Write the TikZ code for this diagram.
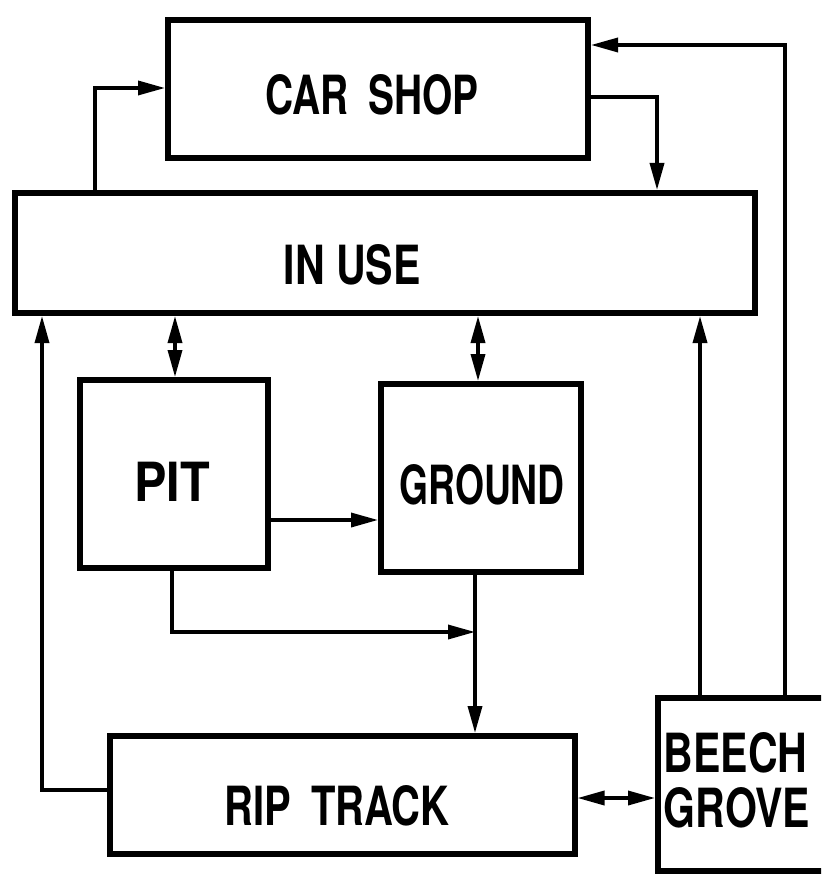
\documentclass[tikz,border=0pt]{standalone}
\usepackage{fontspec}
\usepackage{graphicx}
\setmainfont{TeX Gyre Heros}
\usetikzlibrary{arrows.meta}
\newcommand{\lab}[2][0.76]{\scalebox{#1}[1]{\fontsize{54}{50}\selectfont\bfseries #2}}
\tikzset{
  blk/.style={draw, line width=6pt, rectangle, inner sep=0pt},
  conn/.style={line width=3.5pt, line join=miter},
  tip/.style={-{Triangle[length=27pt,width=14pt]}},
  dtip/.style={{Triangle[length=27pt,width=14pt]}-{Triangle[length=27pt,width=14pt]}},
  lbl/.style={inner sep=0pt}
}
\begin{document}
\begin{tikzpicture}[x=1pt,y=-1pt]
\clip (0,0) rectangle (821,874);
\fill[white] (0,0) rectangle (821,874);
% boxes
\node[blk, minimum width=420pt, minimum height=138pt] (carshop) at (378,89) {};
\node[blk, minimum width=740pt, minimum height=120pt] (inuse) at (385,253) {};
\node[blk, minimum width=188pt, minimum height=188pt] (pit) at (174,474) {};
\node[blk, minimum width=200pt, minimum height=188pt] (ground) at (481,478) {};
\node[blk, minimum width=465pt, minimum height=118pt] (riptrack) at (342,795) {};
\node[blk, minimum width=220pt, minimum height=173pt, anchor=north west] (beech) at (655,695) {};
% labels
\node[lbl] (carshoplbl) at (372,95) {\lab[0.72]{CAR\hspace{0.5em}SHOP}};
\node[lbl] (inuselbl) at (352,265) {\lab{IN USE}};
\node[lbl] (pitlbl) at (172,482) {\lab[0.9]{PIT}};
\node[lbl] (groundlbl) at (482,485) {\lab[0.69]{GROUND}};
\node[lbl] (riptracklbl) at (337,806) {\lab[0.74]{RIP\hspace{0.5em}TRACK}};
\node[lbl] (beechlbl) at (737,787) {\lab{\begin{tabular}{@{}l@{}}BEECH\\GROVE\end{tabular}}};
% coordinates
\coordinate (c1) at (95,88);
\coordinate (c2) at (657,97);
\coordinate (c3) at (785,45);
\coordinate (c4) at (700,0);
\coordinate (c5) at (42,790);
\coordinate (c6) at (175,0);
\coordinate (c7) at (478,0);
\coordinate (c8) at (0,520);
\coordinate (c9) at (172,632);
\coordinate (c10) at (475,632);
\coordinate (c11) at (0,798);
% connectors
\draw[conn,tip] (inuse.north -| c1) |- (carshop.west |- c1);
\draw[conn,tip] (carshop.east |- c2) -| (inuse.north -| c2);
\draw[conn,tip] (beech.north -| c3) |- (carshop.east |- c3);
\draw[conn,tip] (beech.north -| c4) -- (inuse.south -| c4);
\draw[conn,tip] (riptrack.west |- c5) -| (inuse.south -| c5);
\draw[conn,dtip] (inuse.south -| c6) -- (pit.north -| c6);
\draw[conn,dtip] (inuse.south -| c7) -- (ground.north -| c7);
\draw[conn,tip] (pit.east |- c8) -- (ground.west |- c8);
\draw[conn,tip] (pit.south -| c9) |- (c10);
\draw[conn,tip] (ground.south -| c10) -- (riptrack.north -| c10);
\draw[conn,dtip] (riptrack.east |- c11) -- (beech.west |- c11);
\end{tikzpicture}
\end{document}
